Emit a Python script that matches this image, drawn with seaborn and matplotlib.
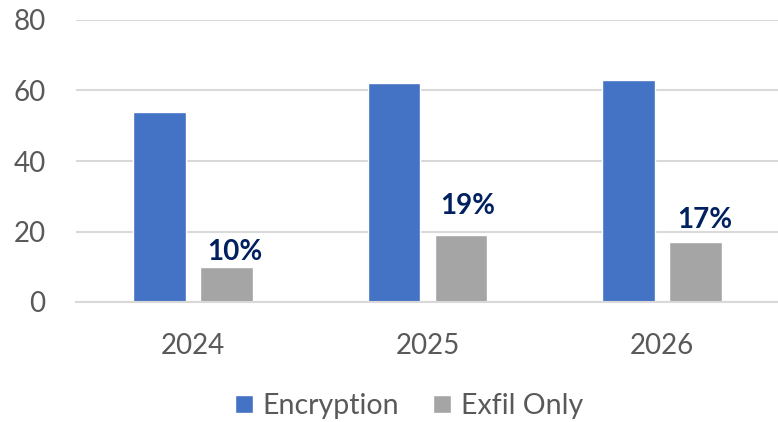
import matplotlib
matplotlib.use("Agg")
import matplotlib.pyplot as plt
import seaborn as sns
import pandas as pd

# Data
years = ["2024", "2025", "2026"]
series_names = ["Encryption", "Exfil Only"]
encryption = [54, 62, 63]
exfil_only = [10, 19, 17]
y_ticks = [0, 20, 40, 60, 80]

# Label placement tweaks (pixels) for the Exfil Only value labels
label_dx = [8, 7, 10]
label_dy = [2, 16, 9]

BLUE = "#4472C4"
GREY = "#A5A5A5"
NAVY = "#002060"
TEXT = "#595959"
GRID = "#D9D9D9"

df = pd.DataFrame({
    "year": years * 2,
    "value": encryption + exfil_only,
    "series": [series_names[0]] * len(years) + [series_names[1]] * len(years),
})

sns.set_theme(style="white")
plt.rcParams["font.family"] = ["Lato", "DejaVu Sans"]

fig = plt.figure(figsize=(7.78, 4.22), dpi=100)
ax = fig.add_axes([76 / 778, (422 - 302) / 422, 703 / 778, 282 / 422])

sns.barplot(data=df, x="year", y="value", hue="series",
            palette=[BLUE, GREY], width=0.57, gap=0.21,
            saturation=1, ax=ax, legend=True)

ax.set_ylim(0, 80)
ax.set_yticks(y_ticks)
ax.set_xlabel("")
ax.set_ylabel("")
ax.set_axisbelow(True)
ax.yaxis.grid(True, color=GRID, linewidth=1.5)
ax.xaxis.grid(False)
for side in ["top", "right", "left"]:
    ax.spines[side].set_visible(False)
ax.spines["bottom"].set_color(GRID)
ax.spines["bottom"].set_linewidth(1.5)
ax.tick_params(axis="y", length=0, pad=22, labelsize=20, labelcolor=TEXT)
ax.tick_params(axis="x", length=0, pad=22, labelsize=20, labelcolor=TEXT)

# Value labels on the Exfil Only bars
exfil_container = ax.containers[1]
for bar, v, dx, dy in zip(exfil_container, exfil_only, label_dx, label_dy):
    cx = bar.get_x() + bar.get_width() / 2
    ax.annotate(f"{v}%", xy=(cx, v), xytext=(dx, dy),
                textcoords="offset pixels", ha="center", va="bottom",
                fontsize=20, fontweight="bold", color=NAVY)

handles, labels = ax.get_legend_handles_labels()
ax.get_legend().remove()
fig.legend(handles, labels, loc="center", bbox_to_anchor=(409 / 778, 1 - 406 / 422),
           ncol=2, frameon=False, fontsize=20.5, labelcolor=TEXT,
           handlelength=0.62, handleheight=0.62, handletextpad=0.35,
           columnspacing=1.2)

fig.savefig("out.png", dpi=100)
